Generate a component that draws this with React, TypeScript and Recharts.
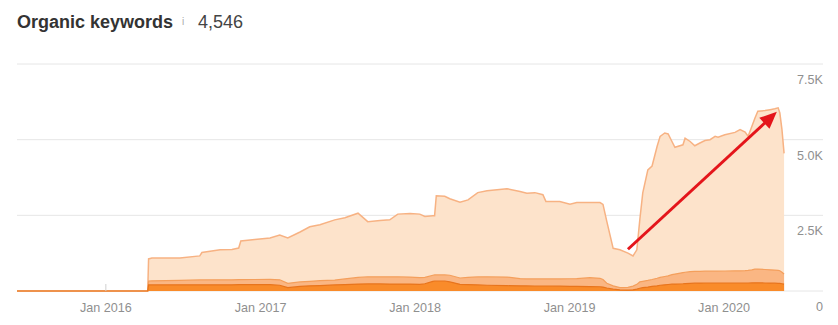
import { AreaChart, Area, XAxis, YAxis, CartesianGrid, ReferenceLine } from "recharts";

const dates = [
  "2015-06-05", "2016-04-09", "2016-04-11", "2016-04-19", "2016-06-24", "2016-08-10",
  "2016-08-15", "2016-09-27", "2016-10-25", "2016-11-10", "2016-11-15", "2016-12-18",
  "2017-01-23", "2017-02-15", "2017-03-06", "2017-04-04", "2017-04-27", "2017-05-21",
  "2017-06-25", "2017-07-19", "2017-08-19", "2017-09-11", "2017-10-10", "2017-11-02",
  "2017-11-21", "2017-12-20", "2018-01-12", "2018-01-24", "2018-02-12", "2018-02-16",
  "2018-02-20", "2018-03-12", "2018-03-24", "2018-04-17", "2018-05-06", "2018-05-29",
  "2018-06-20", "2018-08-06", "2018-09-06", "2018-09-22", "2018-10-11", "2018-10-30",
  "2018-11-06", "2018-12-09", "2019-01-02", "2019-01-18", "2019-02-18", "2019-03-14",
  "2019-03-21", "2019-03-30", "2019-04-14", "2019-04-30", "2019-05-19", "2019-05-31",
  "2019-06-09", "2019-06-16", "2019-06-23", "2019-07-05", "2019-07-15", "2019-07-27",
  "2019-08-03", "2019-08-14", "2019-08-22", "2019-08-31", "2019-09-07", "2019-09-26",
  "2019-10-01", "2019-10-13", "2019-10-24", "2019-11-05", "2019-11-17", "2019-11-29",
  "2019-12-11", "2019-12-18", "2020-01-03", "2020-01-27", "2020-02-08", "2020-02-20",
  "2020-02-27", "2020-03-07", "2020-03-14", "2020-03-21", "2020-04-07", "2020-04-19",
  "2020-04-30", "2020-05-08", "2020-05-12", "2020-05-17", "2020-05-22",
];

const allPositions = [
  0, 0, 1060, 1090, 1090, 1160,
  1270, 1360, 1370, 1420, 1650, 1700,
  1750, 1850, 1750, 1950, 2120, 2190,
  2350, 2420, 2570, 2290, 2330, 2350,
  2540, 2560, 2540, 2460, 2490, 2490,
  3145, 3130, 3050, 2930, 3010, 3250,
  3310, 3380, 3290, 3230, 3250, 3180,
  2960, 2960, 2870, 2920, 2920, 2920,
  2860, 2300, 1410, 1360, 1250, 1160,
  1360, 2350, 3240, 4000, 4130, 4780,
  5110, 5220, 5190, 4940, 4750, 4830,
  5050, 4940, 4800, 4890, 4970, 5000,
  5110, 5080, 5160, 5240, 5330, 5250,
  5110, 5440, 5710, 5940, 5960, 5990,
  6020, 6050, 5880, 5330, 4546,
];

const top10 = [
  0, 0, 330, 335, 350, 365,
  365, 370, 370, 375, 375, 380,
  385, 370, 255, 300, 320, 340,
  360, 400, 450, 470, 470, 470,
  470, 460, 440, 450, 520, 530,
  530, 530, 520, 430, 450, 465,
  470, 460, 410, 400, 400, 400,
  400, 400, 405, 410, 440, 420,
  380, 255, 170, 110, 120, 160,
  220, 300, 320, 350, 380, 420,
  450, 480, 500, 540, 560, 610,
  620, 640, 650, 650, 655, 655,
  655, 655, 660, 665, 665, 670,
  680, 700, 720, 725, 710, 700,
  690, 680, 670, 620, 560,
];

const top3 = [
  0, 0, 200, 200, 205, 205,
  205, 205, 205, 210, 210, 210,
  210, 190, 110, 150, 170, 180,
  200, 210, 230, 235, 235, 230,
  230, 230, 220, 240, 320, 330,
  330, 330, 300, 220, 210, 200,
  190, 175, 170, 168, 165, 165,
  165, 160, 155, 150, 145, 140,
  130, 100, 60, 35, 30, 40,
  60, 90, 110, 130, 150, 170,
  190, 205, 215, 225, 230, 240,
  245, 250, 258, 262, 265, 265,
  265, 265, 265, 265, 265, 265,
  265, 268, 270, 270, 265, 262,
  260, 255, 250, 240, 230,
];

const yearTicks = ["2016-01-01", "2017-01-01", "2018-01-01", "2019-01-01", "2020-01-01"];
const valueTicks = [0, 2500, 5000, 7500];
const xRange = ["2015-06-05", "2020-08-22"];

// red trend arrow drawn over the chart
const arrowFrom = { date: "2019-05-19", value: 1380 };
const arrowTo = { date: "2020-05-05", value: 5920 };

const toTime = (d: string) => Date.parse(d + "T00:00:00Z");

const data = dates.map((d, i) => ({
  t: toTime(d),
  all: allPositions[i],
  top10: top10[i],
  top3: top3[i],
}));

const FONT = "'Liberation Sans', Arial, Helvetica, sans-serif";
const PLOT_RIGHT = 823;

const formatValue = (v: number) => (v === 0 ? "0" : `${(v / 1000).toFixed(1)}K`);

const XTick = (props: any) => {
  const { x, y, payload, index } = props;
  const year = new Date(payload.value).getUTCFullYear();
  return (
    <g>
      {/* only the first tick sits on empty ground, the rest are hidden under the area */}
      {index === 0 && <line x1={x} x2={x} y1={y} y2={y - 7} stroke="#d0d0d0" />}
      <text x={x} y={y + 20.5} textAnchor="middle" fill="#8f8f8f" fontSize={12.6} fontFamily={FONT}>
        {`Jan ${year}`}
      </text>
    </g>
  );
};

const YTick = (props: any) => {
  const { y, payload } = props;
  return (
    <text x={PLOT_RIGHT} y={y + 20} textAnchor="end" fill="#8f8f8f" fontSize={12.6} fontFamily={FONT}>
      {formatValue(payload.value)}
    </text>
  );
};

const Arrow = (props: any) => {
  const { x1, y1, x2, y2 } = props;
  if ([x1, y1, x2, y2].some((v) => typeof v !== "number")) return null;
  const dx = x2 - x1;
  const dy = y2 - y1;
  const len = Math.sqrt(dx * dx + dy * dy);
  const ux = dx / len;
  const uy = dy / len;
  const head = 17;
  const half = 7.5;
  const bx = x2 - ux * head;
  const by = y2 - uy * head;
  return (
    <g>
      <line x1={x1} y1={y1} x2={bx + ux * 2} y2={by + uy * 2} stroke="#e4151b" strokeWidth={3} />
      <polygon
        points={`${x2},${y2} ${bx - uy * half},${by + ux * half} ${bx + uy * half},${by - ux * half}`}
        fill="#e4151b"
      />
    </g>
  );
};

export default function App() {
  return (
    <div style={{ position: "absolute", left: 0, top: 0, width: 838, height: 325, background: "#fff" }}>
      <div
        style={{
          position: "absolute",
          left: 17,
          top: 11,
          fontFamily: FONT,
          fontSize: 18,
          lineHeight: "22px",
          fontWeight: 700,
          color: "#333",
          whiteSpace: "nowrap",
        }}
      >
        Organic keywords
      </div>
      <div
        style={{
          position: "absolute",
          left: 182,
          top: 15,
          fontFamily: FONT,
          fontSize: 10,
          lineHeight: "14px",
          color: "#aaa",
        }}
      >
        i
      </div>
      <div
        style={{
          position: "absolute",
          left: 198,
          top: 11,
          fontFamily: FONT,
          fontSize: 18,
          lineHeight: "22px",
          color: "#444",
        }}
      >
        4,546
      </div>
      <AreaChart
        width={838}
        height={325}
        data={data}
        margin={{ top: 64, right: 15, bottom: 4, left: 17 }}
      >
        <CartesianGrid vertical={false} stroke="#e6e6e6" />
        <XAxis
          dataKey="t"
          type="number"
          scale="time"
          domain={[toTime(xRange[0]), toTime(xRange[1])]}
          ticks={yearTicks.map(toTime)}
          interval={0}
          height={30}
          axisLine={false}
          tickLine={false}
          tickSize={0}
          tickMargin={0}
          tick={<XTick />}
        />
        <YAxis
          orientation="right"
          mirror
          width={1}
          domain={[0, 7500]}
          ticks={valueTicks}
          interval={0}
          axisLine={false}
          tickLine={false}
          tickSize={0}
          tickMargin={0}
          tick={<YTick />}
        />
        <Area
          type="linear"
          dataKey="all"
          stroke="#f7b283"
          strokeWidth={1.5}
          fill="#fde3cb"
          fillOpacity={1}
          isAnimationActive={false}
          dot={false}
          activeDot={false}
        />
        <Area
          type="linear"
          dataKey="top10"
          stroke="#f49f5c"
          strokeWidth={1.2}
          fill="#fab683"
          fillOpacity={1}
          isAnimationActive={false}
          dot={false}
          activeDot={false}
        />
        <Area
          type="linear"
          dataKey="top3"
          stroke="#e8741c"
          strokeWidth={1.2}
          fill="#f98b2a"
          fillOpacity={1}
          isAnimationActive={false}
          dot={false}
          activeDot={false}
        />
        <ReferenceLine
          segment={[
            { x: toTime(arrowFrom.date), y: arrowFrom.value },
            { x: toTime(arrowTo.date), y: arrowTo.value },
          ]}
          ifOverflow="visible"
          shape={<Arrow />}
        />
      </AreaChart>
    </div>
  );
}
